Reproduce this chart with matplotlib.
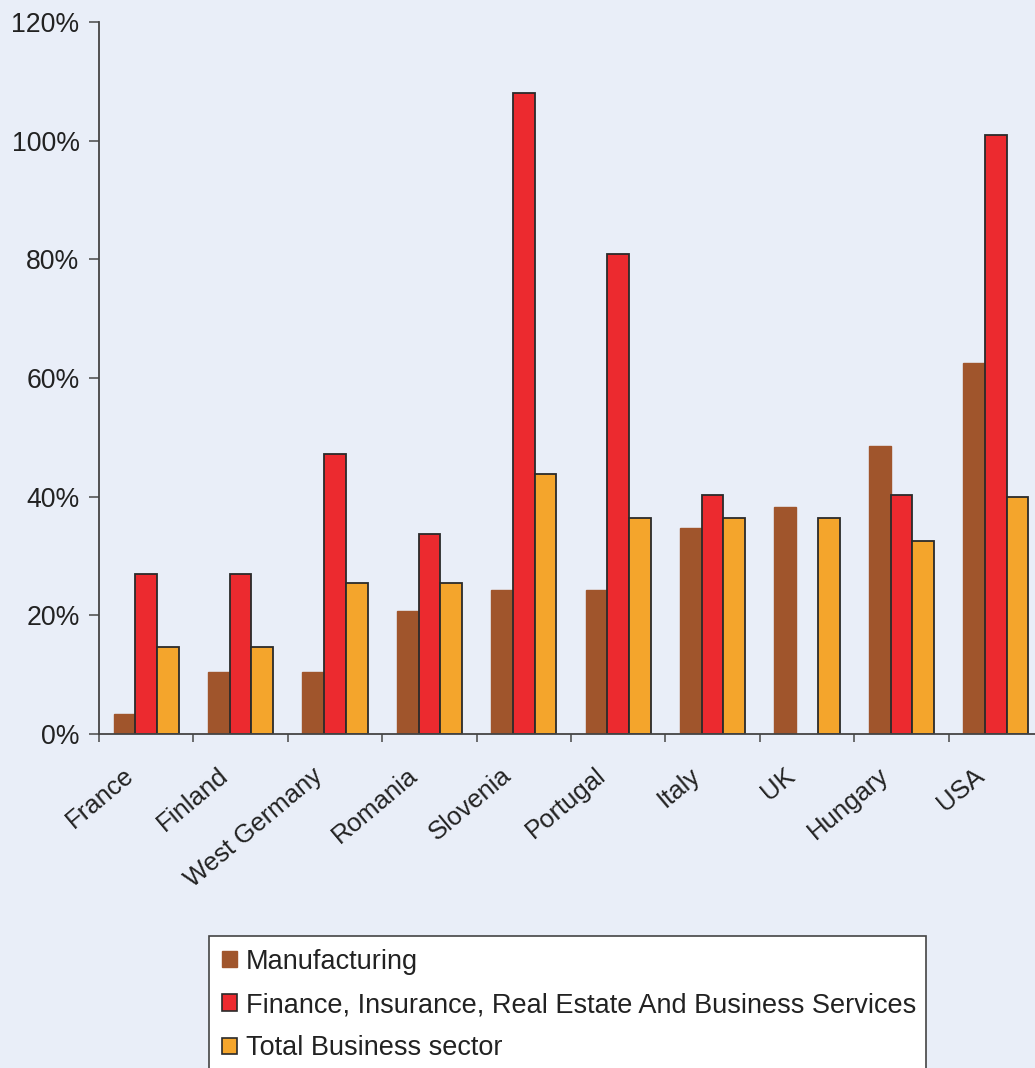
import numpy as np
import matplotlib
matplotlib.use("Agg")
import matplotlib.pyplot as plt
import matplotlib.transforms as mtransforms
from matplotlib.patches import Rectangle, Patch

countries = ["France", "Finland", "West Germany", "Romania", "Slovenia",
             "Portugal", "Italy", "UK", "Hungary", "USA"]
manufacturing = [3.3, 10.4, 10.4, 20.8, 24.3, 24.3, 34.7, 38.2, 48.6, 62.5]
finance = [27.0, 27.0, 47.2, 33.7, 108.0, 80.9, 40.3, np.nan, 40.3, 101.0]
total_business = [14.7, 14.7, 25.5, 25.5, 43.8, 36.4, 36.4, 36.4, 32.5, 39.9]
series_names = ["Manufacturing",
                "Finance, Insurance, Real Estate And Business Services",
                "Total Business sector"]
yticks = [0, 20, 40, 60, 80, 100, 120]

plt.rcParams['font.family'] = ['Liberation Sans', 'DejaVu Sans']
BG = "#E9EEF8"
C_M = "#A0552C"
C_F = "#EC2A2F"
C_T = "#F4A52C"
EDGE = "#2A2A2A"
TXT = "#222222"

W, H = 1035, 1068
fig = plt.figure(figsize=(W / 100, H / 100), dpi=100, facecolor=BG)
ax = fig.add_axes([99 / W, 1 - 734 / H, (1043 - 99) / W, (734 - 22) / H], facecolor=BG)

x = np.arange(len(countries))
bw = 0.23
ax.bar(x - bw, manufacturing, bw, color=C_M, edgecolor=C_M, linewidth=1.0)
ax.bar(x, finance, bw, color=C_F, edgecolor=EDGE, linewidth=1.3)
ax.bar(x + bw, total_business, bw, color=C_T, edgecolor=EDGE, linewidth=1.3)

ax.set_xlim(-0.5, len(countries) - 0.5)
ax.set_ylim(0, 120)
ax.set_yticks(yticks)
ax.set_yticklabels([f"{v}%" for v in yticks], fontsize=19.2, color=TXT)
ax.tick_params(axis='y', length=7, width=1.2, color="#555555", pad=7)

ax.set_xticks(x)
ax.set_xticklabels(countries, fontsize=18.5, color=TXT,
                   rotation=40, ha='right', rotation_mode='anchor')
ax.tick_params(axis='x', which='major', length=0, pad=21)
ax.set_xticks(np.arange(len(countries)) - 0.5, minor=True)
ax.tick_params(axis='x', which='minor', length=6, width=1.2, color="#555555")
offset = mtransforms.ScaledTranslation(-23 / 100, 0, fig.dpi_scale_trans)
for lab in ax.get_xticklabels():
    lab.set_transform(lab.get_transform() + offset)

for s in ['top', 'right']:
    ax.spines[s].set_visible(False)
for s in ['left', 'bottom']:
    ax.spines[s].set_color("#444444")
    ax.spines[s].set_linewidth(1.3)

# legend frame (extends beyond bottom edge, as in the reference)
fig.patches.append(Rectangle((209 / W, -0.05), (926 - 209) / W, (1 - 936 / H) + 0.05,
                             transform=fig.transFigure, facecolor="white",
                             edgecolor="#444444", linewidth=1.2, zorder=1))
handles = [Patch(facecolor=C_M, edgecolor=C_M),
           Patch(facecolor=C_F, edgecolor=EDGE, linewidth=1.2),
           Patch(facecolor=C_T, edgecolor=EDGE, linewidth=1.2)]
leg = fig.legend(handles, series_names, loc='upper left',
                 bbox_to_anchor=(200 / W, 1 - 927 / H), frameon=False,
                 fontsize=19.5, handlelength=0.55, handleheight=0.55,
                 handletextpad=0.35, labelspacing=0.64, borderpad=0.3)
for t in leg.get_texts():
    t.set_color(TXT)
leg.set_zorder(5)

fig.savefig("out.png", dpi=100, facecolor=BG)
